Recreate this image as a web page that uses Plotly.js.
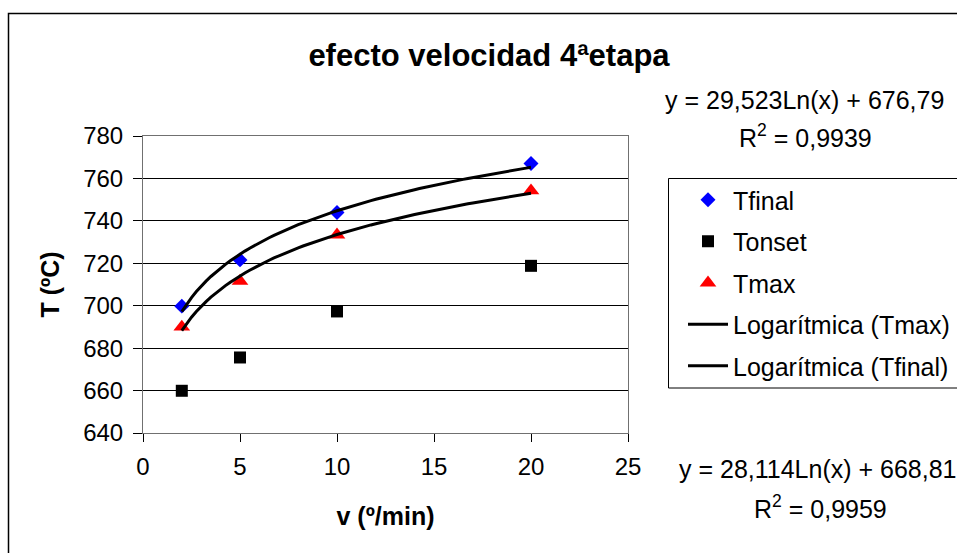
<!DOCTYPE html>
<html>
<head>
<meta charset="utf-8">
<script src="https://cdn.plot.ly/plotly-3.0.1.min.js"></script>
<style>html,body{margin:0;padding:0;background:#fff;}#chart{width:957px;height:553px;}</style>
</head>
<body>
<div id="chart"></div>
<script>
// ---- data ----
const velocity = [2, 5, 10, 20];
const tFinal = [699.8, 721.6, 743.9, 767.0];
const tOnset = [659.9, 675.6, 697.3, 718.8];
const tMax = [690.0, 711.6, 733.4, 754.2];

// trendline coefficients shown on the chart: y = a*Ln(x) + b
const fitFinal = {a: 29.523, b: 676.79, r2: "0,9939"};
const fitMax = {a: 28.114, b: 668.81, r2: "0,9959"};

const xTicks = [0, 5, 10, 15, 20, 25];
const yTicks = [640, 660, 680, 700, 720, 740, 760, 780];

// trendline samples over the data range
const trendX = [];
for (let x = 2; x <= 20.0001; x += 0.25) trendX.push(x);
const trendFinal = trendX.map(x => fitFinal.a * Math.log(x) + fitFinal.b);
const trendMax = trendX.map(x => fitMax.a * Math.log(x) + fitMax.b);

const FONT = "Liberation Sans, Arial, sans-serif";

const traces = [
  {x: velocity, y: tFinal, name: "Tfinal", type: "scatter", mode: "markers", legendgroup: "g1",
   marker: {symbol: "diamond", size: 11.5, color: "#0000FF"}},
  {x: velocity, y: tOnset, name: "Tonset", type: "scatter", mode: "markers", legendgroup: "g2",
   marker: {symbol: "square", size: 12, color: "#000000"}},
  {x: velocity, y: tMax, name: "Tmax", type: "scatter", mode: "markers", legendgroup: "g3",
   marker: {symbol: "triangle-up", size: 14.5, color: "#FF0000"}},
  {x: trendX, y: trendMax, name: "Logarítmica (Tmax)", type: "scatter", mode: "lines", legendgroup: "g4",
   line: {color: "#000000", width: 3}},
  {x: trendX, y: trendFinal, name: "Logarítmica (Tfinal)", type: "scatter", mode: "lines", legendgroup: "g5",
   line: {color: "#000000", width: 3}}
];

// pixel helpers for paper placement (plot area 143..628 x 136..433)
const L = 143, R = 628, T = 136, B = 433;
const px = p => (p - L) / (R - L);
const py = p => (B - p) / (B - T);

const layout = {
  width: 957, height: 553,
  margin: {l: L, r: 957 - R, t: T, b: 553 - B, autoexpand: false},
  paper_bgcolor: "#ffffff", plot_bgcolor: "#ffffff",
  font: {family: FONT, color: "#000000", size: 24},
  showlegend: true,
  title: {text: "<b>efecto velocidad 4ªetapa</b>", font: {family: FONT, size: 31, color: "#000"},
          x: 489 / 957, xanchor: "center", y: 1 - 55 / 553, yanchor: "middle"},
  xaxis: {
    range: [0, 25], tickvals: xTicks, ticktext: xTicks.map(String),
    showgrid: false, zeroline: false, showline: true, linecolor: "#707070", linewidth: 1, mirror: true,
    ticks: "outside", ticklen: 8, tickcolor: "#000", tickwidth: 1, ticklabelstandoff: 4,
    tickfont: {family: FONT, size: 24, color: "#000"},
    title: {text: "<b>v (º/min)</b>", font: {family: FONT, size: 25, color: "#000"}, standoff: 28},
    fixedrange: true
  },
  yaxis: {
    range: [640, 780], tickvals: yTicks, ticktext: yTicks.map(String),
    showgrid: true, gridcolor: "#000000", gridwidth: 1, zeroline: false,
    showline: true, linecolor: "#707070", linewidth: 1, mirror: true,
    ticks: "outside", ticklen: 9, tickcolor: "#000", tickwidth: 1, ticklabelstandoff: 5,
    tickfont: {family: FONT, size: 24, color: "#000"},
    title: {text: "<b>T (ºC)</b>", font: {family: FONT, size: 25, color: "#000"}, standoff: 16},
    fixedrange: true
  },
  legend: {
    x: px(683), xanchor: "left", y: py(177), yanchor: "top",
    bgcolor: "rgba(0,0,0,0)", borderwidth: 0,
    font: {family: FONT, size: 25, color: "#000"},
    traceorder: "grouped", tracegroupgap: 6, itemwidth: 40
  },
  shapes: [
    // outer chart border (extends past the window on the right and bottom)
    {type: "rect", xref: "paper", yref: "paper", x0: px(8.5), x1: px(1100), y0: py(700), y1: py(13.5),
     line: {color: "#000000", width: 1.5}, fillcolor: "rgba(0,0,0,0)", layer: "below"},
    // legend box
    {type: "rect", xref: "paper", yref: "paper", x0: px(668.5), x1: px(1100), y0: py(388), y1: py(178.5),
     line: {color: "#000000", width: 1}, fillcolor: "rgba(0,0,0,0)", layer: "below"}
  ],
  annotations: [
    {xref: "paper", yref: "paper", x: px(804.5), y: py(100), xanchor: "center", yanchor: "middle", showarrow: false,
     text: "y = 29,523Ln(x) + 676,79", font: {family: FONT, size: 25, color: "#000"}},
    {xref: "paper", yref: "paper", x: px(805), y: py(136), xanchor: "center", yanchor: "middle", showarrow: false,
     text: "R<sup>2</sup> = " + fitFinal.r2, font: {family: FONT, size: 25, color: "#000"}},
    {xref: "paper", yref: "paper", x: px(818), y: py(469), xanchor: "center", yanchor: "middle", showarrow: false,
     text: "y = 28,114Ln(x) + 668,81", font: {family: FONT, size: 25, color: "#000"}},
    {xref: "paper", yref: "paper", x: px(820), y: py(507), xanchor: "center", yanchor: "middle", showarrow: false,
     text: "R<sup>2</sup> = " + fitMax.r2, font: {family: FONT, size: 25, color: "#000"}}
  ]
};

Plotly.newPlot("chart", traces, layout, {displayModeBar: false, staticPlot: true});
</script>
</body>
</html>
